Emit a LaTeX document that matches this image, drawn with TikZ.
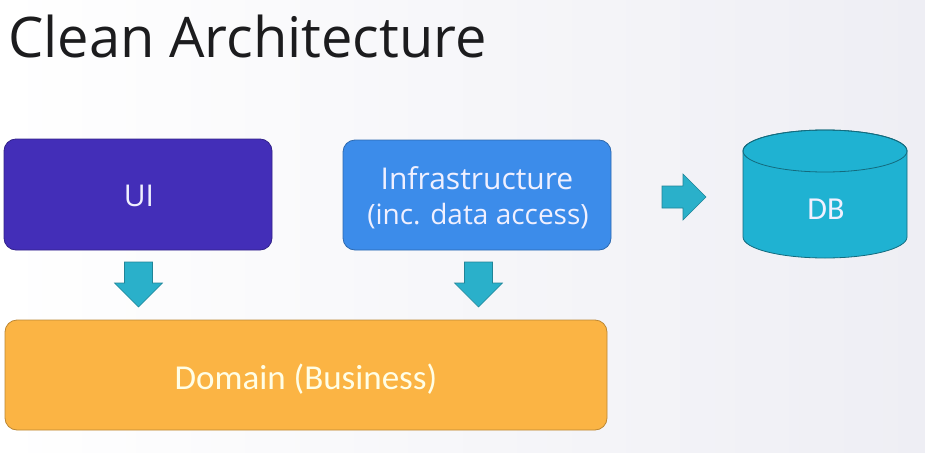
\documentclass[tikz,border=0pt]{standalone}
\usepackage{fontspec}
\setmainfont{Open Sans}
\newfontfamily\calfont{Carlito}
\definecolor{uicol}{RGB}{67,46,184}
\definecolor{infracol}{RGB}{60,140,234}
\definecolor{domcol}{RGB}{251,180,68}
\definecolor{arrcol}{RGB}{42,176,202}
\definecolor{dbcol}{RGB}{31,178,210}
\definecolor{titlecol}{RGB}{28,28,30}
\definecolor{bgright}{RGB}{238,238,244}
\begin{document}
\begin{tikzpicture}[x=1pt,y=-1pt,
  box/.style={rounded corners=12pt, line width=0.8pt, text=white, align=center, inner sep=0pt},
  blockarrow/.style={fill=arrcol, draw=arrcol!75!black, line width=0.6pt}]
\shade[left color=white, right color=bgright] (0,0) rectangle (925,452);
\useasboundingbox (0,0) rectangle (925,452);
\node[anchor=base west, text=titlecol, inner sep=0pt] (title) at (8,58) {\fontsize{56}{60}\selectfont Clean Architecture};
\node[box, fill=uicol, draw=uicol!75!black, minimum width=268pt, minimum height=111pt] (ui) at (138,194.5) {};
\node[text=white!94!blue, inner sep=0pt] (uit) at (139,196) {\fontsize{30}{36}\selectfont UI};
\node[box, fill=infracol, draw=infracol!75!black, minimum width=268pt, minimum height=110pt] (infra) at (477,195) {};
\node[text=white!94!blue, inner sep=0pt] (inf1) at (477,178) {\fontsize{30}{36}\selectfont Infrastructure};
\node[text=white!94!blue, inner sep=0pt] (inf2) at (478,216) {\fontsize{28}{36}\selectfont (inc. data access)};
\node[box, fill=domcol, draw=domcol!75!black, minimum width=602pt, minimum height=110pt] (dom) at (306,375) {};
\node[text=white!90!yellow, inner sep=0pt] (domt) at (306,379) {\calfont\fontsize{35}{40}\selectfont Domain (Business)};
% DB cylinder
\coordinate (dbc) at (825,151);
\filldraw[fill=dbcol, draw=dbcol!60!black, line width=0.8pt] (743,151) -- (743,237) arc[start angle=180, end angle=360, x radius=82, y radius=-21] -- (907,151) arc[start angle=0, end angle=180, x radius=82, y radius=-21] -- cycle;
\draw[dbcol!60!black, line width=0.8pt] (dbc) ellipse[x radius=82, y radius=21];
\node[text=white!94!blue, inner sep=0pt] (db) at (826,209) {\calfont\fontsize{32}{38}\selectfont DB};
% block arrows
\coordinate (a1) at (138.5,262);
\filldraw[blockarrow] (a1) ++(-14,0) -- ++(0,21) -- ++(-10,0) -- ++(24,24) -- ++(24,-24) -- ++(-10,0) -- ++(0,-21) -- cycle;
\coordinate (a2) at (478.5,262);
\filldraw[blockarrow] (a2) ++(-14,0) -- ++(0,21) -- ++(-10,0) -- ++(24,24) -- ++(24,-24) -- ++(-10,0) -- ++(0,-21) -- cycle;
\coordinate (a3) at (662,197);
\filldraw[blockarrow] (a3) ++(0,-11) -- ++(21,0) -- ++(0,-12) -- ++(23,23) -- ++(-23,23) -- ++(0,-12) -- ++(-21,0) -- cycle;
\end{tikzpicture}
\end{document}
